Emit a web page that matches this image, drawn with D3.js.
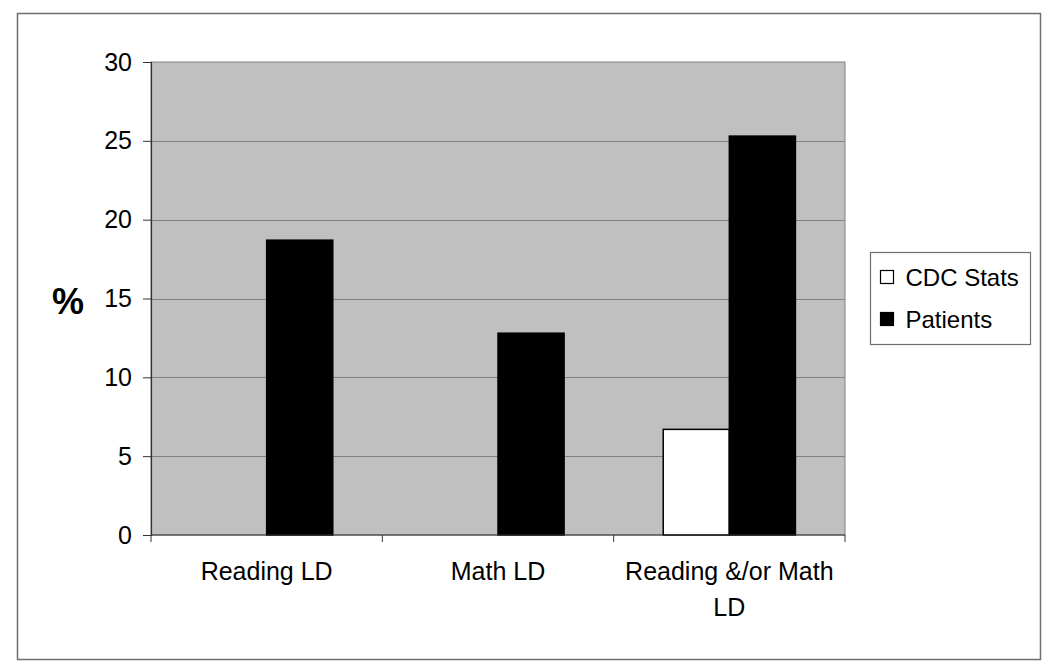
<!DOCTYPE html>
<html>
<head>
<meta charset="utf-8">
<script src="https://cdn.jsdelivr.net/npm/d3@7/dist/d3.min.js"></script>
<style>
  body { margin: 0; background: #fff; }
  svg { display: block; font-family: "Liberation Sans", Arial, sans-serif; }
</style>
</head>
<body>
<svg width="1050" height="672"></svg>
<script>
var categories = ["Reading LD", "Math LD", "Reading &/or Math LD"];
var seriesNames = ["CDC Stats", "Patients"];
var cdcValues = [null, null, 6.7];
var patientValues = [18.7, 12.8, 25.3];
var yTicks = [0, 5, 10, 15, 20, 25, 30];

var seriesColors = { "CDC Stats": "#ffffff", "Patients": "#000000" };

var svg = d3.select("svg"),
    width = +svg.attr("width"),
    height = +svg.attr("height");

// outer chart border
svg.append("rect")
  .attr("x", 17.5).attr("y", 13.5)
  .attr("width", 1023).attr("height", 646)
  .attr("fill", "#fff")
  .attr("stroke", "#6e6e6e")
  .attr("stroke-width", 1.5);

var plot = { left: 151, top: 62, right: 845, bottom: 535 };

var x = d3.scaleBand()
  .domain(categories)
  .range([plot.left, plot.right])
  .paddingInner(0).paddingOuter(0);

var y = d3.scaleLinear()
  .domain([0, 30])
  .range([plot.bottom, plot.top]);

// Excel-style gap width 150%: bar = step / (nSeries + 1.5)
var barW = x.bandwidth() / (seriesNames.length + 1.5);
var xs = d3.scaleBand()
  .domain(seriesNames)
  .range([0, barW * seriesNames.length]);

// plot area background
svg.append("rect")
  .attr("x", plot.left).attr("y", plot.top)
  .attr("width", plot.right - plot.left)
  .attr("height", plot.bottom - plot.top)
  .attr("fill", "#c0c0c0")
  .attr("stroke", "#808080")
  .attr("stroke-width", 1);

// gridlines
svg.append("g")
  .selectAll("line")
  .data(yTicks.filter(function(d) { return d > 0 && d < 30; }))
  .enter().append("line")
    .attr("x1", plot.left).attr("x2", plot.right)
    .attr("y1", function(d) { return Math.round(y(d)) + 0.5; })
    .attr("y2", function(d) { return Math.round(y(d)) + 0.5; })
    .attr("stroke", "#808080")
    .attr("stroke-width", 1);

// bars
var rows = [];
categories.forEach(function(c, i) {
  rows.push({ cat: c, series: "CDC Stats", value: cdcValues[i] });
  rows.push({ cat: c, series: "Patients", value: patientValues[i] });
});

svg.append("g")
  .selectAll("rect")
  .data(rows.filter(function(d) { return d.value != null; }))
  .enter().append("rect")
    .attr("x", function(d) {
      return x(d.cat) + x.bandwidth() / 2 - barW + xs(d.series);
    })
    .attr("y", function(d) { return y(d.value); })
    .attr("width", barW)
    .attr("height", function(d) { return y(0) - y(d.value); })
    .attr("fill", function(d) { return seriesColors[d.series]; })
    .attr("stroke", "#000")
    .attr("stroke-width", 1.5);

// y axis
var yAxis = d3.axisLeft(y)
  .tickValues(yTicks)
  .tickSize(8)
  .tickPadding(11)
  .tickFormat(d3.format("d"));

var gy = svg.append("g")
  .attr("transform", "translate(" + plot.left + ",0)")
  .call(yAxis);
gy.select(".domain").attr("stroke", "#333").attr("stroke-width", 1.2);
gy.selectAll(".tick line").attr("stroke", "#333");
gy.selectAll(".tick text")
  .attr("font-size", 25)
  .attr("fill", "#000")
  .attr("font-family", "Liberation Sans, Arial, sans-serif");

// x axis (ticks at category boundaries)
var gx = svg.append("g")
  .attr("transform", "translate(0," + plot.bottom + ")");
gx.append("line")
  .attr("x1", plot.left).attr("x2", plot.right)
  .attr("y1", 0).attr("y2", 0)
  .attr("stroke", "#333").attr("stroke-width", 1.2);
var bounds = categories.map(function(c) { return x(c); }).concat([plot.right]);
gx.selectAll("line.tk")
  .data(bounds)
  .enter().append("line")
    .attr("class", "tk")
    .attr("x1", function(d) { return d; })
    .attr("x2", function(d) { return d; })
    .attr("y1", 0).attr("y2", 7)
    .attr("stroke", "#333");

var labels = gx.selectAll("text.cat")
  .data(categories)
  .enter().append("text")
    .attr("class", "cat")
    .attr("x", function(d) { return x(d) + x.bandwidth() / 2; })
    .attr("y", 45)
    .attr("text-anchor", "middle")
    .attr("font-size", 25)
    .attr("fill", "#000")
    .text(function(d) { return d; });

labels.call(wrap, x.bandwidth() - 10);

// y axis title
svg.append("text")
  .attr("x", 68).attr("y", 314)
  .attr("text-anchor", "middle")
  .attr("font-size", 36)
  .attr("font-weight", "bold")
  .text("%");

// legend
var legend = svg.append("g").attr("transform", "translate(870.5,252.5)");
legend.append("rect")
  .attr("width", 160).attr("height", 92)
  .attr("fill", "#fff")
  .attr("stroke", "#6e6e6e")
  .attr("stroke-width", 1.2);

var item = legend.selectAll("g.item")
  .data(seriesNames)
  .enter().append("g")
    .attr("class", "item")
    .attr("transform", function(d, i) { return "translate(10," + (18 + i * 42) + ")"; });
item.append("rect")
  .attr("width", 13).attr("height", 13)
  .attr("fill", function(d) { return seriesColors[d]; })
  .attr("stroke", "#000")
  .attr("stroke-width", 1.2);
item.append("text")
  .attr("x", 25).attr("y", 15)
  .attr("font-size", 24)
  .attr("fill", "#000")
  .text(function(d) { return d; });

function wrap(text, w) {
  text.each(function() {
    var t = d3.select(this),
        words = t.text().split(/\s+/).reverse(),
        word, line = [], lineNo = 0,
        x0 = t.attr("x"), y0 = t.attr("y"),
        tspan = t.text(null).append("tspan").attr("x", x0).attr("y", y0);
    while ((word = words.pop())) {
      line.push(word);
      tspan.text(line.join(" "));
      if (tspan.node().getComputedTextLength() > w && line.length > 1) {
        line.pop();
        tspan.text(line.join(" "));
        line = [word];
        lineNo++;
        tspan = t.append("tspan").attr("x", x0).attr("y", +y0 + lineNo * 36).text(word);
      }
    }
  });
}
</script>
</body>
</html>
